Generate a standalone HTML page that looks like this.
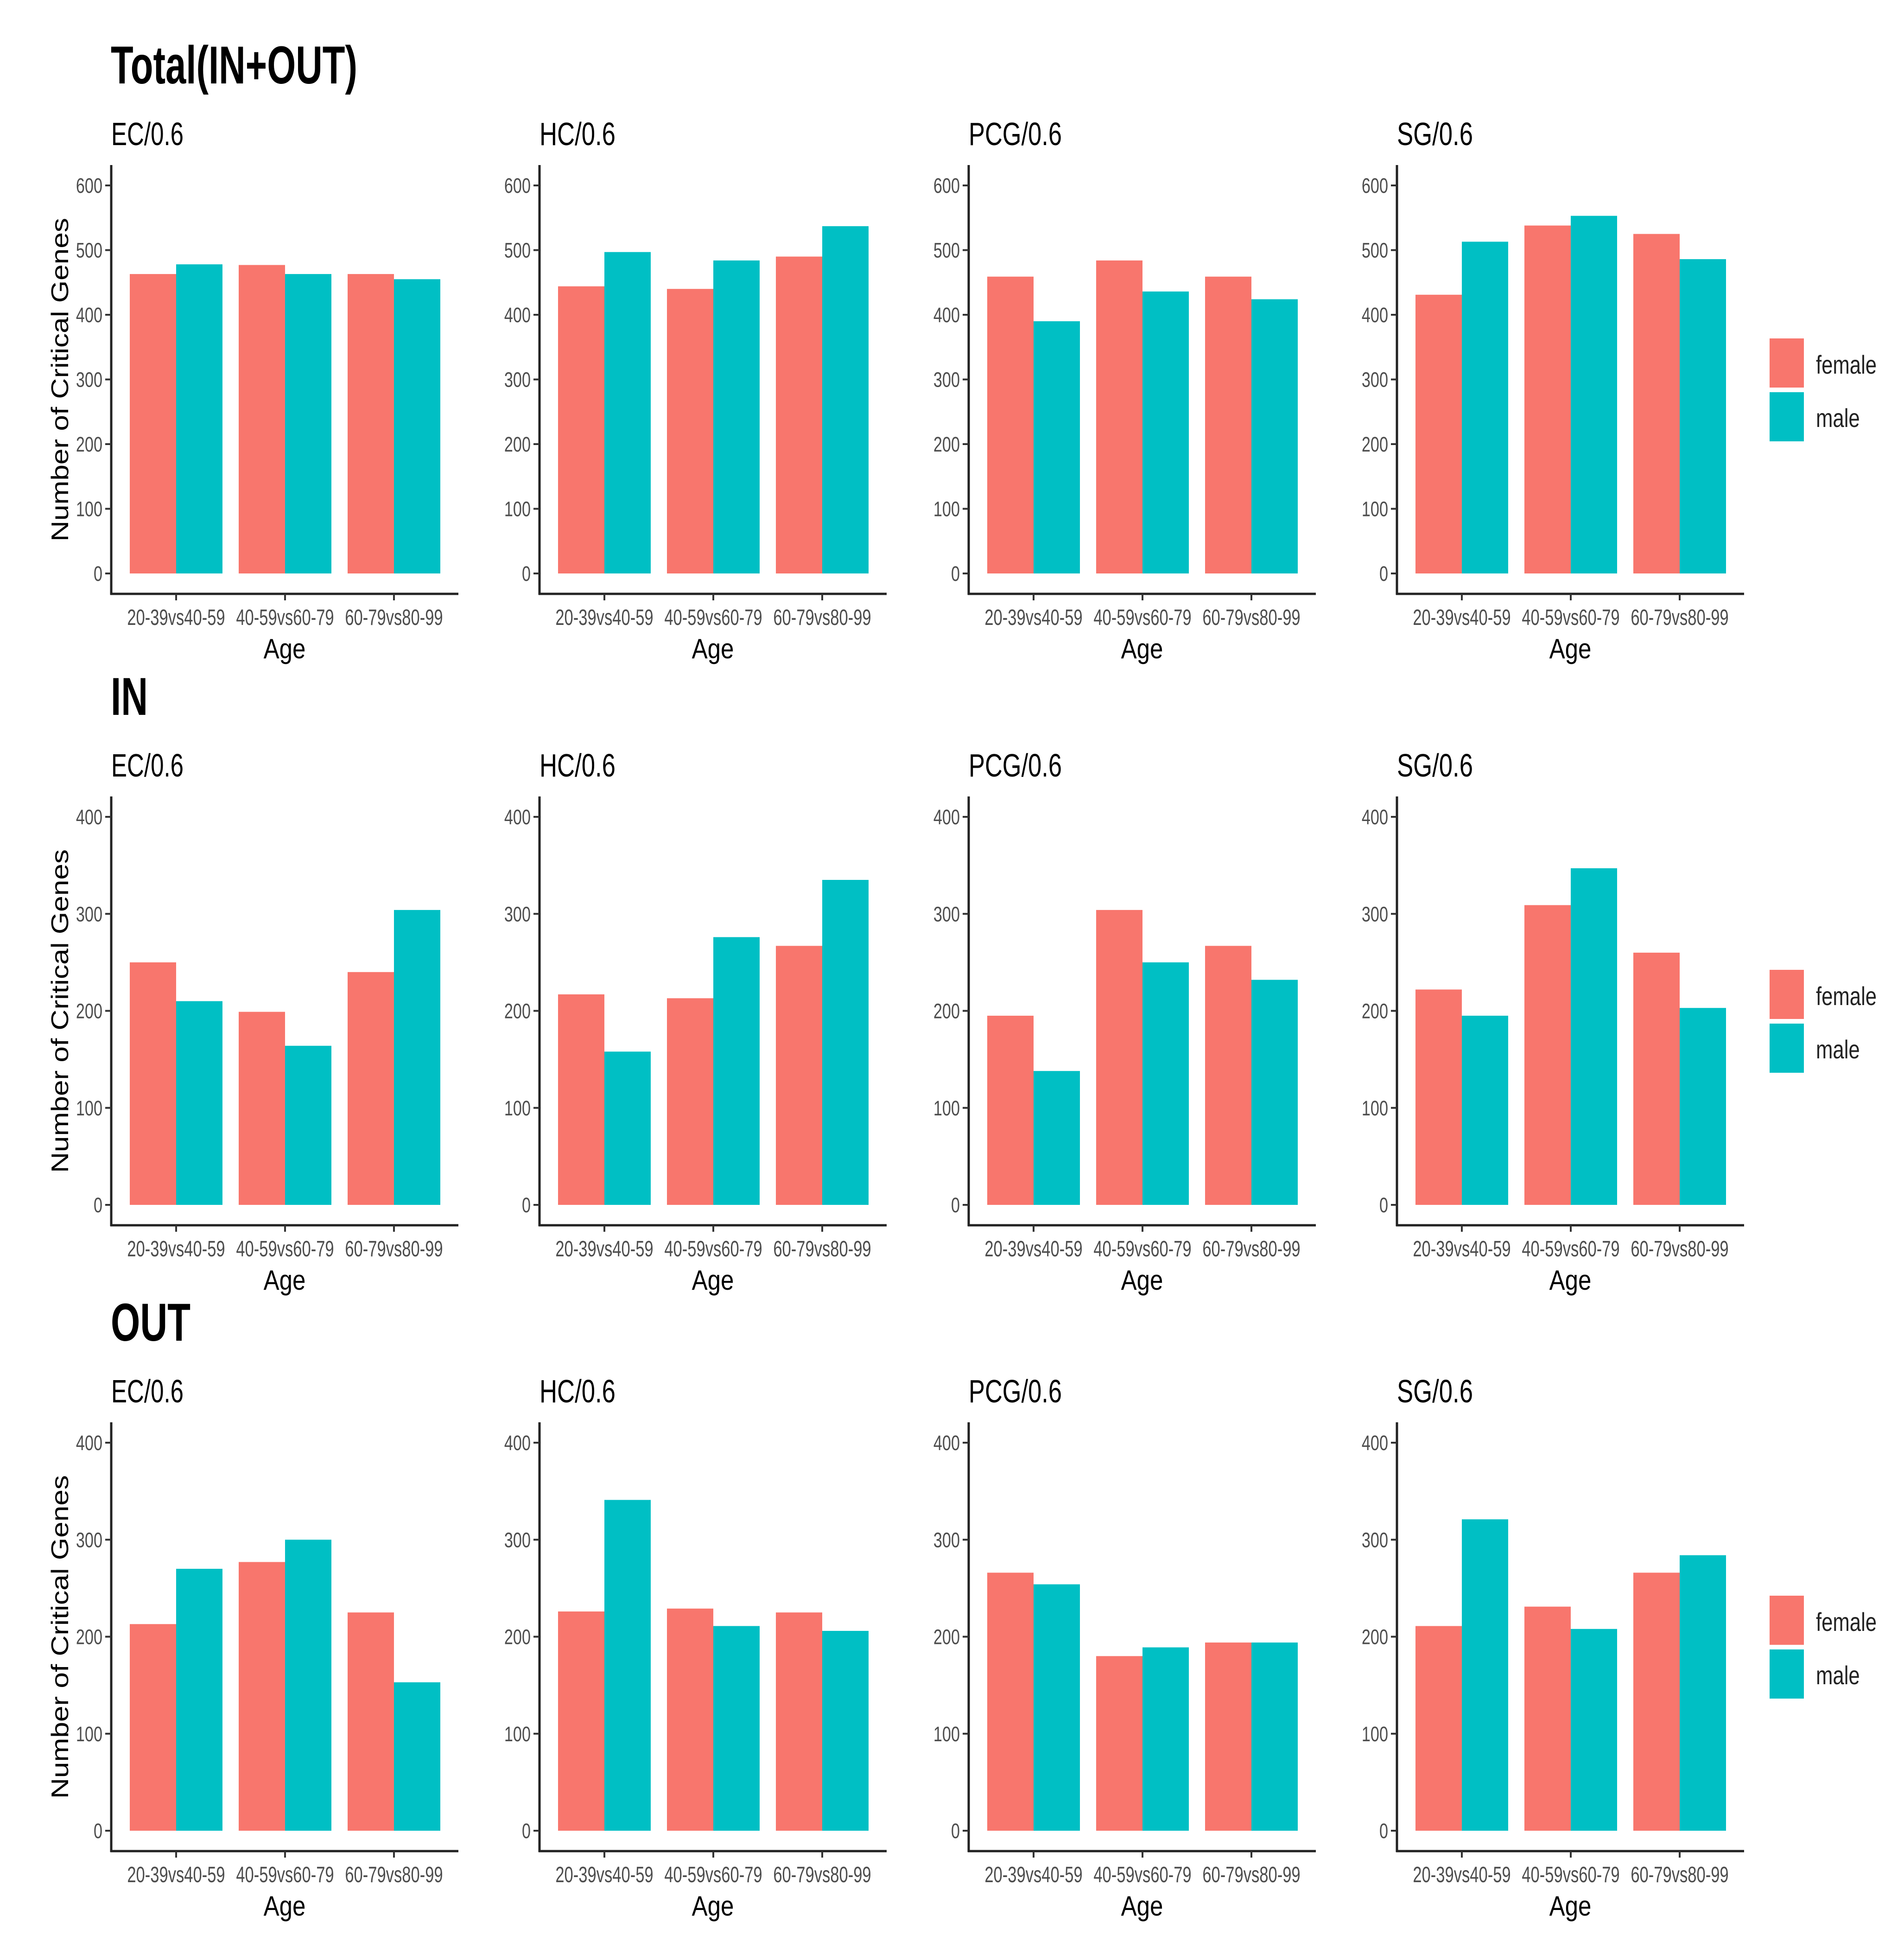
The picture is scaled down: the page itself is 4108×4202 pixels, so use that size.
<!DOCTYPE html>
<html><head><meta charset="utf-8">
<style>
html,body{margin:0;padding:0;background:#fff;}
svg{display:block;font-family:"Liberation Sans",Arial,sans-serif;}
</style></head>
<body>
<svg id="chart" width="4108" height="4202" viewBox="0 0 4108 4202" xmlns="http://www.w3.org/2000/svg"></svg>
<script>
const categories = ["20-39vs40-59","40-59vs60-79","60-79vs80-99"];
const panelNames = ["EC/0.6","HC/0.6","PCG/0.6","SG/0.6"];
const rowTitles = ["Total(IN+OUT)","IN","OUT"];
const rowMax = [600,400,400];
const ticksTotal = [0,100,200,300,400,500,600];
const ticksInOut = [0,100,200,300,400];
// female / male values per row, per panel, per category
const totalFemale = [[463,477,463],[444,440,490],[459,484,459],[431,538,525]];
const totalMale   = [[478,463,455],[497,484,537],[390,436,424],[513,553,486]];
const inFemale    = [[250,199,240],[217,213,267],[195,304,267],[222,309,260]];
const inMale      = [[210,164,304],[158,276,335],[138,250,232],[195,347,203]];
const outFemale   = [[213,277,225],[226,229,225],[266,180,194],[211,231,266]];
const outMale     = [[270,300,153],[341,211,206],[254,189,194],[321,208,284]];

const NS="http://www.w3.org/2000/svg";
const svg=document.getElementById('chart');
const FEM="#F8766D", MAL="#00BFC4";
function mk(tag,attrs,parent){const e=document.createElementNS(NS,tag);for(const k in attrs)e.setAttribute(k,attrs[k]);(parent||svg).appendChild(e);return e;}
function txt(s,attrs,squeeze,parent){const t=mk('text',attrs,parent);t.textContent=s;
  if(squeeze){const L=t.getComputedTextLength();t.setAttribute('textLength',(L*squeeze).toFixed(1));t.setAttribute('lengthAdjust','spacingAndGlyphs');}return t;}

const rowOff=[0,1362,2712];
const colOff=[0,924,1850,2774];
const titleLens=[156,164,201,164];
const rowTitleLens=[532,80,172];
const rowData=[[totalFemale,totalMale],[inFemale,inMale],[outFemale,outMale]];
const rowTicks=[ticksTotal,ticksInOut,ticksInOut];

for(let r=0;r<3;r++){
  const oy=rowOff[r];
  const rt=txt(rowTitles[r],{x:239,y:180+oy,'font-size':115,'font-weight':'bold',fill:'#000'});
  
  
  rt.setAttribute('textLength',rowTitleLens[r]);rt.setAttribute('lengthAdjust','spacingAndGlyphs');
  const y0=1237+oy, yTop=400+oy;
  const ys=v=>y0-(v/rowMax[r])*(y0-yTop);
  for(let p=0;p<4;p++){
    const ox=colOff[p];
    const g=mk('g',{});
    
    
    const pt=txt(panelNames[p],{x:240+ox,y:313+oy,'font-size':70,fill:'#000'},null,g);
    pt.setAttribute('textLength',titleLens[p]);pt.setAttribute('lengthAdjust','spacingAndGlyphs');
    
    
    const xs=i=>380+ox+i*235;
    const fem=rowData[r][0][p], mal=rowData[r][1][p];
    for(let i=0;i<3;i++){
      const b1=mk('rect',{x:xs(i)-100,y:ys(fem[i]),width:100,height:y0-ys(fem[i]),fill:FEM},g);
      
      
      const b2=mk('rect',{x:xs(i),y:ys(mal[i]),width:100,height:y0-ys(mal[i]),fill:MAL},g);
      
      
    }
    const ax=240+ox;
    mk('line',{x1:ax,y1:356+oy,x2:ax,y2:1283+oy,stroke:'#222','stroke-width':5},g);
    mk('line',{x1:ax-2,y1:1281+oy,x2:989+ox,y2:1281+oy,stroke:'#222','stroke-width':5},g);
    rowTicks[r].forEach(tv=>{
      const y=ys(tv);
      mk('line',{x1:ax-13,y1:y,x2:ax,y2:y,stroke:'#333','stroke-width':4},g);
      const t=txt(String(tv),{x:ax-19,y:y+16,'font-size':45,fill:'#4d4d4d','text-anchor':'end'},0.76,g);
      
      
    });
    categories.forEach((c,i)=>{
      mk('line',{x1:xs(i),y1:1281+oy,x2:xs(i),y2:1295+oy,stroke:'#333','stroke-width':4},g);
      const t=txt(c,{x:xs(i),y:1348+oy,'font-size':48,fill:'#4d4d4d','text-anchor':'middle'},0.72,g);
      
      
    });
    const at=txt('Age',{x:614+ox,y:1420+oy,'font-size':60,fill:'#000','text-anchor':'middle'},0.85,g);
    
    
    if(p===0){
      const yt=txt('Number of Critical Genes',{x:0,y:0,'font-size':52,fill:'#000','text-anchor':'middle',transform:`translate(147,${819+oy}) rotate(-90)`},null,g);
      yt.setAttribute('textLength',698);yt.setAttribute('lengthAdjust','spacingAndGlyphs');
      
      
    }
  }
  const lg=mk('g',{});
  
  
  const k1=mk('rect',{x:3818,y:730+oy,width:74,height:106,fill:FEM},lg);
  
  
  const k2=mk('rect',{x:3818,y:846+oy,width:74,height:106,fill:MAL},lg);
  
  
  const l1=txt('female',{x:3918,y:806+oy,'font-size':56,fill:'#222'},0.78,lg);
  
  
  const l2=txt('male',{x:3918,y:921+oy,'font-size':56,fill:'#222'},0.78,lg);
  
  
}
</script>
</body></html>
